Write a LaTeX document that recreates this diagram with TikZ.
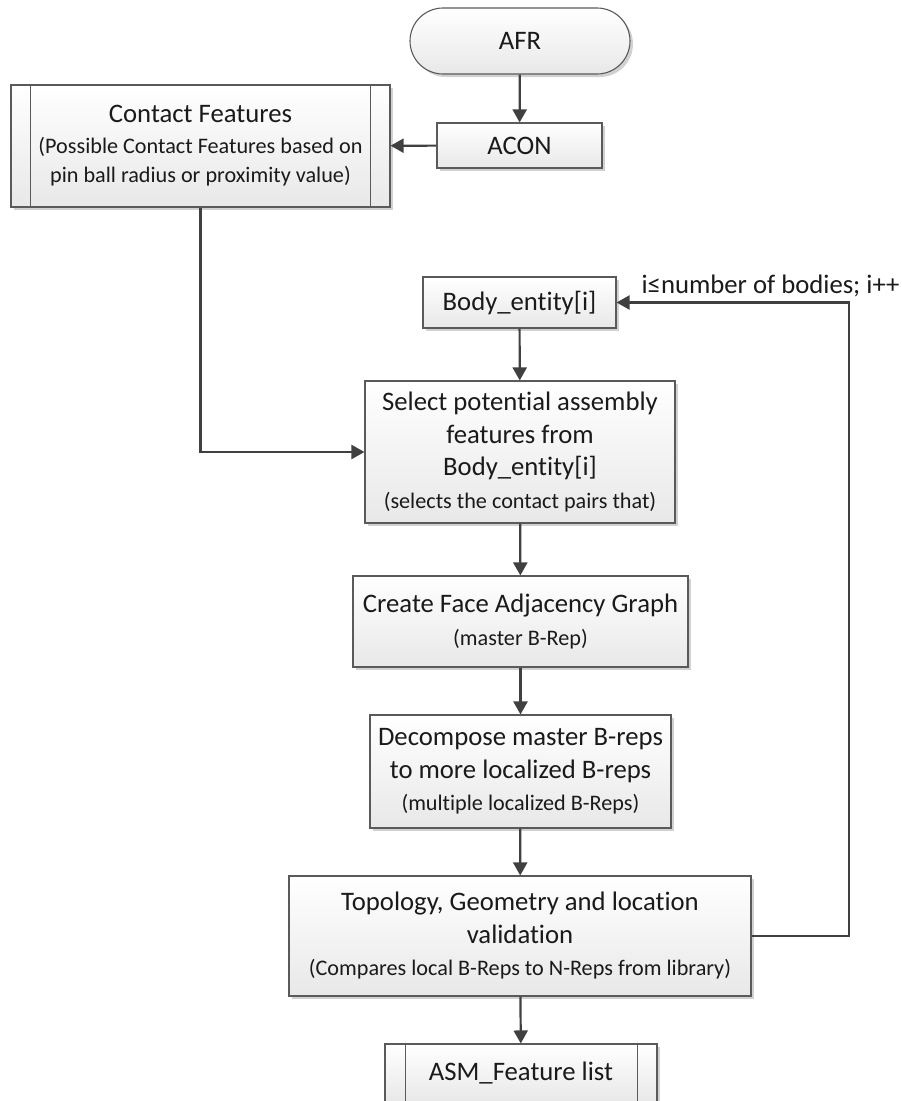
\documentclass[tikz,border=0pt]{standalone}
\usepackage{fontspec}
\setmainfont{Carlito}[Ligatures={NoCommon,NoContextual}, Contextuals=NoAlternate]
\usetikzlibrary{arrows.meta,shadows,calc}
\definecolor{edge}{HTML}{5A5A5A}
\definecolor{wire}{HTML}{404040}
\definecolor{boxbottom}{HTML}{E8E8E8}
\definecolor{ink}{HTML}{1A1A1A}
\newcommand{\mtxt}{\fontsize{26.7}{32.5}\selectfont}
\newcommand{\stxt}{\fontsize{22.2}{27}\selectfont}
\tikzset{
  flowbox/.style={draw=edge, line width=1.1pt, rectangle, align=center,
    top color=white, bottom color=boxbottom, text=ink, font=\mtxt,
    inner sep=0pt,
    drop shadow={shadow xshift=3pt, shadow yshift=-3pt, fill=black!18, opacity=1}},
  termbox/.style={flowbox, rounded corners=33pt},
  flow/.style={draw=wire, line width=2.2pt, -{Triangle[length=13pt,width=14pt]}},
}
\begin{document}
\begin{tikzpicture}[x=1pt,y=-1pt]
\useasboundingbox (0,0) rectangle (902,1101);

% start terminator and contact detection
\node[termbox, minimum width=220pt, minimum height=66pt] (afr) at (520,41) {AFR};
\node[flowbox, minimum width=165pt, minimum height=45pt] (acon) at (519.5,145.5) {ACON};
\node[flowbox, minimum width=379pt, minimum height=122pt] (cf) at (200.5,146)
  {Contact Features\\[-2pt]{\stxt (Possible Contact Features based on}\\[-3pt]{\stxt pin ball radius or proximity value)}};
\draw[edge, line width=1.1pt] ([xshift=20pt]cf.north west) -- ([xshift=20pt]cf.south west)
  ([xshift=-20pt]cf.north east) -- ([xshift=-20pt]cf.south east);

% per-body processing chain
\node[flowbox, minimum width=193pt, minimum height=51pt] (body) at (519.5,302.5) {Body\_entity[i]};
\node[flowbox, minimum width=310pt, minimum height=142pt] (sel) at (520,452)
  {Select potential assembly\\features from\\Body\_entity[i]\\{\stxt (selects the contact pairs that)}};
\node[flowbox, minimum width=335pt, minimum height=91pt] (fag) at (520.5,621.5)
  {Create Face Adjacency Graph\\{\stxt (master B-Rep)}};
\node[flowbox, minimum width=301pt, minimum height=113pt] (dec) at (520.5,771.5)
  {Decompose master B-reps\\to more localized B-reps\\{\stxt (multiple localized B-Reps)}};
\node[flowbox, minimum width=462pt, minimum height=120pt] (topo) at (520,936)
  {Topology, Geometry and location\\validation\\{\stxt (Compares local B-Reps to N-Reps from library)}};

% output list
\node[flowbox, minimum width=272pt, minimum height=58pt] (asm) at (521,1073) {ASM\_Feature list};
\draw[edge, line width=1.1pt] ([xshift=21pt]asm.north west) -- ([xshift=21pt]asm.south west)
  ([xshift=-20pt]asm.north east) -- ([xshift=-20pt]asm.south east);

% connectors
\coordinate (loop) at (849,302.5);
\draw[flow] (afr) -- (acon);
\draw[flow] (acon) -- (cf);
\draw[flow] (cf.south) |- (sel.west);
\draw[flow] (body) -- (sel);
\draw[flow] (sel) -- (fag);
\draw[flow] (fag) -- (dec);
\draw[flow] (dec) -- (topo);
\draw[flow] (topo) -- (asm);
\draw[flow] (topo.east) -| (loop) -- (body.east);
\node[anchor=base, text=ink, font=\mtxt, inner sep=0pt] (cond) at (770.5,293) {i≤number of bodies; i++};
\end{tikzpicture}
\end{document}
